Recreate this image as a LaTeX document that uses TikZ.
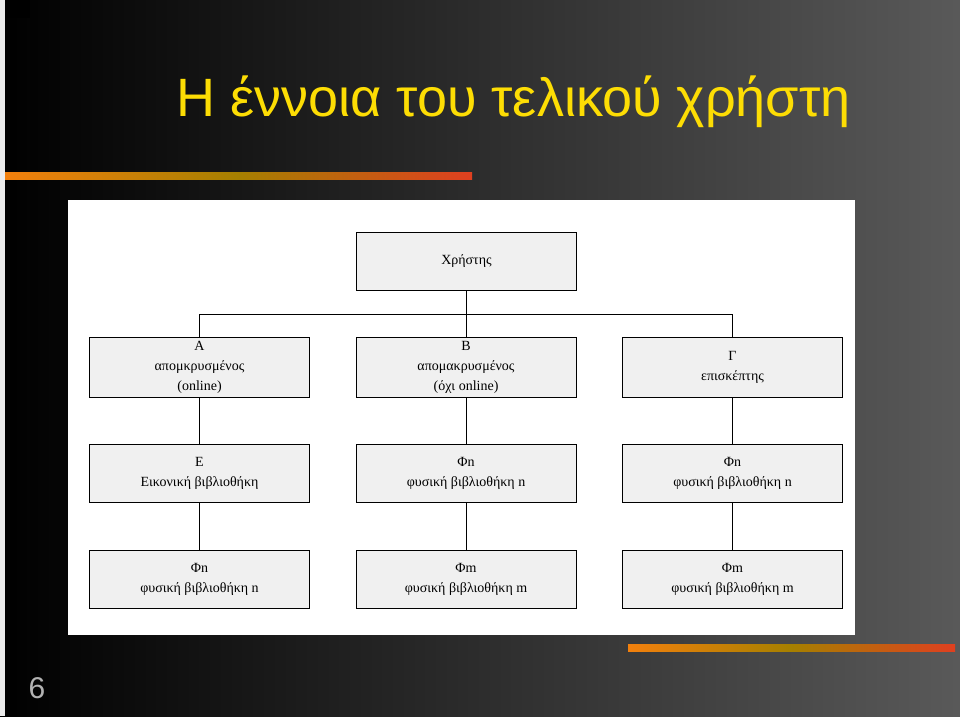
\documentclass[tikz,border=0pt]{standalone}
\usepackage{fontspec}
\setmainfont{Liberation Serif}
\newfontfamily\titlefont{Liberation Sans}
\begin{document}
\begin{tikzpicture}[x=1pt,y=-1pt,
  box/.style={draw=black,line width=1pt,fill=gray!12,minimum width=220pt,minimum height=58pt,align=center,inner sep=0pt,font=\fontsize{14}{20}\selectfont},
  conn/.style={draw=black,line width=1pt}]
\useasboundingbox (0,0) rectangle (960,716);
\shade[left color=black,right color=black!65] (0,0) rectangle (960,716);
\fill[white!85!gray] (0,0) rectangle (5,716);
\fill[black] (5,0) rectangle (30,18);
\node[anchor=base west,text=yellow!80!orange,font=\titlefont\fontsize{54}{60}\selectfont,inner sep=0pt] (title) at (176,116) {Η έννοια του τελικού χρήστη};
\shade[left color=orange!80!brown,right color=red!50!brown,middle color=olive!70!orange] (5,172) rectangle (472,179);
\shade[left color=orange!80!brown,right color=red!50!brown,middle color=olive!70!orange] (628,644) rectangle (955,651);
\node[text=gray!60,font=\titlefont\fontsize{30}{34}\selectfont] (num) at (37,688) {6};
\fill[white] (68,200) rectangle (855,635);
\node[box,minimum height=58pt] (u) at (466.5,261) {Χρήστης};
\node[box,minimum height=60pt] (a) at (199.5,367) {Α\\απομκρυσμένος\\(online)};
\node[box,minimum height=60pt] (b) at (466,367) {Β\\απομακρυσμένος\\(όχι online)};
\node[box,minimum height=60pt] (c) at (732.5,367) {Γ\\επισκέπτης};
\node[box] (e) at (199.5,473) {Ε\\Εικονική βιβλιοθήκη};
\node[box] (f1) at (466,473) {Φn\\φυσική βιβλιοθήκη n};
\node[box] (f2) at (732.5,473) {Φn\\φυσική βιβλιοθήκη n};
\node[box] (g1) at (199.5,579) {Φn\\φυσική βιβλιοθήκη n};
\node[box] (g2) at (466,579) {Φm\\φυσική βιβλιοθήκη m};
\node[box] (g3) at (732.5,579) {Φm\\φυσική βιβλιοθήκη m};
\coordinate (j) at (466,314);
\draw[conn] (u.south -| j) -- (b.north);
\draw[conn] (a.north) |- (j) -| (c.north);
\draw[conn] (a) -- (e); \draw[conn] (e) -- (g1);
\draw[conn] (b) -- (f1); \draw[conn] (f1) -- (g2);
\draw[conn] (c) -- (f2); \draw[conn] (f2) -- (g3);
\end{tikzpicture}
\end{document}
